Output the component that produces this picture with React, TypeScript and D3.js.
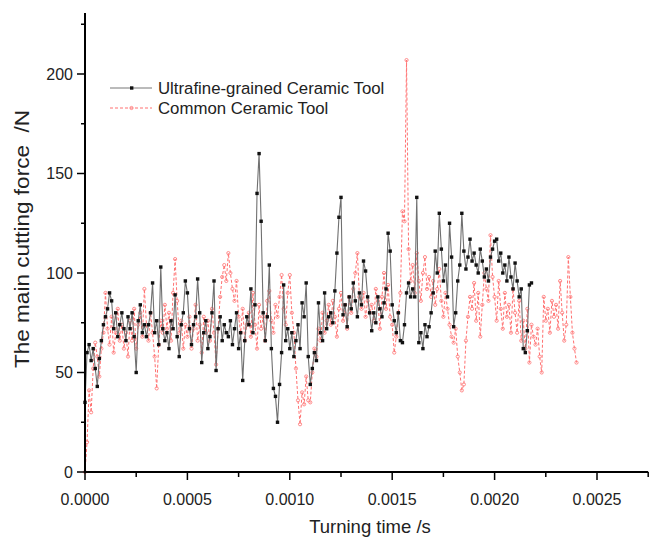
import React from "react";
import * as d3 from "d3";

const DT = 0.00001;

const ultrafine: number[] = [
  35, 60, 64, 56, 62, 52, 43, 57, 66, 74,
  78, 82, 90, 86, 72, 80, 68, 74, 80, 72,
  66, 78, 72, 80, 68, 50, 76, 84, 70, 74,
  68, 74, 80, 95, 70, 76, 64, 103, 72, 66,
  70, 62, 76, 72, 89, 68, 58, 74, 80, 96,
  90, 72, 64, 74, 78, 97, 80, 55, 70, 76,
  62, 68, 80, 96, 51, 72, 78, 66, 74, 70,
  68, 76, 64, 72, 80, 62, 70, 46, 66, 78,
  74, 92, 70, 84, 140, 160, 126, 80, 66, 78,
  104, 62, 42, 38, 25, 44, 60, 94, 66, 72,
  62, 70, 58, 66, 74, 62, 85, 78, 95, 58,
  44, 52, 60, 56, 85, 70, 66, 90, 72, 78,
  80, 75, 91, 110, 128, 138, 79, 84, 73, 88,
  82, 95, 86, 78, 90, 84, 106, 101, 88, 80,
  71, 80, 75, 88, 82, 78, 85, 92, 120, 111,
  84, 76, 70, 80, 66, 65, 74, 90, 95, 88,
  92, 88, 138, 65, 70, 62, 74, 68, 73, 80,
  90, 111, 100, 130, 112, 96, 104, 88, 125, 108,
  73, 80, 96, 104, 130, 111, 102, 108, 117, 106,
  110, 104, 100, 112, 106, 98, 102, 96, 108, 112,
  116, 117, 106, 110, 100, 104, 96, 108, 98, 92,
  105, 96, 88, 92, 62, 60, 71, 94, 95,
];

const common: number[] = [
  0, 15, 41, 30, 52, 65, 58, 48, 62, 70,
  90, 72, 64, 78, 60, 70, 82, 66, 74, 62,
  70, 58, 76, 66, 82, 62, 74, 80, 68, 92,
  74, 66, 80, 70, 58, 42, 64, 76, 70, 84,
  72, 80, 66, 90, 107, 86, 70, 76, 62, 74,
  68, 78, 62, 72, 84, 66, 74, 60, 78, 70,
  76, 66, 82, 70, 54, 72, 88, 98, 104, 96,
  110, 100, 92, 86, 96, 78, 70, 82, 66, 74,
  80, 68, 90, 74, 62, 84, 72, 78, 66, 86,
  91, 76, 70, 84, 78, 88, 99, 82, 74, 90,
  99, 80, 70, 52, 36, 24, 40, 34, 48, 36,
  35, 50, 62, 58, 72, 66, 80, 70, 76, 84,
  74, 86, 78, 68, 82, 90, 76, 84, 72, 88,
  80, 92, 100, 110, 88, 82, 90, 78, 86, 80,
  84, 76, 92, 86, 72, 88, 100, 82, 94, 78,
  74, 60, 68, 80, 90, 131, 126, 207, 112, 96,
  104, 90, 110, 96, 86, 100, 108, 92, 98, 88,
  96, 84, 92, 102, 86, 78, 90, 82, 74, 68,
  65, 72, 58, 50, 41, 44, 66, 78, 88, 82,
  95, 76, 90, 68, 84, 100, 92, 86, 119, 98,
  88, 76, 96, 82, 72, 90, 78, 84, 70, 92,
  80, 70, 86, 66, 76, 62, 82, 55, 74, 68,
  64, 72, 58, 50, 88, 76, 82, 70, 86, 78,
  84, 72, 96, 80, 66, 74, 108, 88, 70, 62,
  55,
];

const xMajorTicks = [0, 0.0005, 0.001, 0.0015, 0.002, 0.0025];
const xMinorTicks = [0.00025, 0.00075, 0.00125, 0.00175, 0.00225, 0.00275];
const yMajorTicks = [0, 50, 100, 150, 200];
const yMinorTicks = [25, 75, 125, 175, 225];

const legendLabels = ["Ultrafine-grained Ceramic Tool", "Common Ceramic Tool"];
const xTitle = "Turning time /s";
const yTitle = "The main cutting force  /N";

export default function App() {
  const W = 652;
  const H = 541;
  const left = 85;
  const bottom = 472;
  const x = d3.scaleLinear().domain([0, 0.00275]).range([left, left + 563.2]);
  const y = d3.scaleLinear().domain([0, 230]).range([bottom, bottom - 230 * 1.99]);

  const ptsA = ultrafine.map((v, i) => [x(i * DT), y(v)] as [number, number]);
  const ptsB = common.map((v, i) => [x(i * DT), y(v)] as [number, number]);
  const line = d3.line();

  const font = "Arial, 'Liberation Sans', sans-serif";

  return (
    <svg
      width={W}
      height={H}
      style={{ position: "absolute", left: 0, top: 0, background: "#fff" }}
      fontFamily={font}
    >
      {/* red series */}
      <path d={line(ptsB) || ""} fill="none" stroke="#ff7070" strokeWidth={1} strokeDasharray="3,2" />
      {ptsB.map((p, i) => (
        <circle key={"b" + i} cx={p[0]} cy={p[1]} r={1.6} fill="none" stroke="#ff8080" strokeWidth={0.9} />
      ))}
      {/* black series */}
      <path d={line(ptsA) || ""} fill="none" stroke="#707070" strokeWidth={1.1} />
      {ptsA.map((p, i) => (
        <rect key={"a" + i} x={p[0] - 1.7} y={p[1] - 1.7} width={3.4} height={3.4} fill="#111" />
      ))}

      {/* axes */}
      <line x1={left} x2={left} y1={13} y2={bottom + 1} stroke="#000" strokeWidth={2} />
      <line x1={left - 1} x2={x(0.00275)} y1={bottom} y2={bottom} stroke="#000" strokeWidth={2} />
      {yMajorTicks.map((t) => (
        <g key={"ym" + t}>
          <line x1={left - 8} x2={left} y1={y(t)} y2={y(t)} stroke="#000" strokeWidth={1.5} />
          <text x={left - 12} y={y(t) + 5.5} fontSize={16} textAnchor="end" fill="#222">
            {t}
          </text>
        </g>
      ))}
      {yMinorTicks.map((t) => (
        <line key={"yn" + t} x1={left - 4} x2={left} y1={y(t)} y2={y(t)} stroke="#000" strokeWidth={1.5} />
      ))}
      {xMajorTicks.map((t) => (
        <g key={"xm" + t}>
          <line x1={x(t)} x2={x(t)} y1={bottom} y2={bottom + 8} stroke="#000" strokeWidth={1.5} />
          <text x={x(t)} y={bottom + 33} fontSize={16} textAnchor="middle" fill="#222">
            {t.toFixed(4)}
          </text>
        </g>
      ))}
      {xMinorTicks.map((t) => (
        <line key={"xn" + t} x1={x(t)} x2={x(t)} y1={bottom} y2={bottom + 5} stroke="#000" strokeWidth={1.5} />
      ))}

      {/* axis titles */}
      <text x={370} y={533} fontSize={18.5} textAnchor="middle" fill="#222">
        {xTitle}
      </text>
      <text
        transform={`translate(29, 239) rotate(-90)`}
        fontSize={19.5}
        textAnchor="middle"
        fill="#222"
        textLength={258}
        lengthAdjust="spacingAndGlyphs"
        style={{ whiteSpace: "pre" }}
      >
        {yTitle}
      </text>

      {/* legend */}
      <line x1={110} x2={152} y1={88} y2={88} stroke="#777" strokeWidth={1} />
      <rect x={130} y={86.3} width={3.4} height={3.4} fill="#111" />
      <text x={158} y={94} fontSize={16.8} fill="#222">
        {legendLabels[0]}
      </text>
      <line x1={110} x2={152} y1={108} y2={108} stroke="#ff7070" strokeWidth={1} strokeDasharray="3,2" />
      <circle cx={131.5} cy={108} r={1.6} fill="none" stroke="#ff8080" strokeWidth={0.9} />
      <text x={158} y={114} fontSize={16.8} fill="#222">
        {legendLabels[1]}
      </text>
    </svg>
  );
}
